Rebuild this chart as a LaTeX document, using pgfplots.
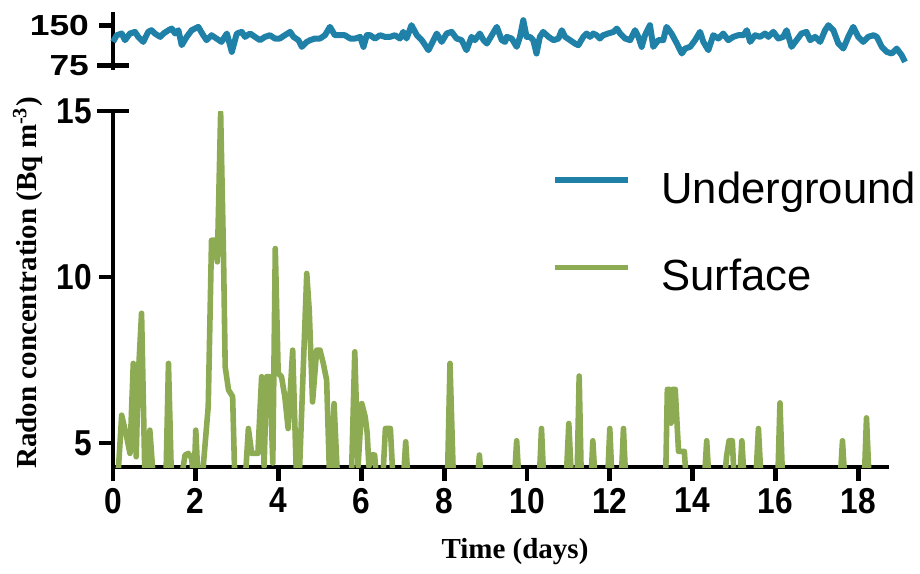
\documentclass[border=0pt]{standalone}
\usepackage{fontspec}
\setmainfont{Liberation Sans}
\newfontfamily\serifb{Liberation Serif}
\newfontfamily\tickf[FakeStretch=0.88]{Liberation Sans Bold}
\newfontfamily\tickw[FakeStretch=1.22]{Liberation Sans Bold}
\usepackage{pgfplots}
\pgfplotsset{compat=1.18}
\definecolor{ugblue}{RGB}{31,128,168}
\definecolor{sfgreen}{RGB}{141,171,82}

\begin{document}
\begin{tikzpicture}
\useasboundingbox (-56.5pt,-53pt) rectangle (403.5pt,233.5pt);

% lower panel: surface
\begin{axis}[
  at={(0pt,0pt)}, anchor=south west,
  x=20.7pt, y=16.6pt,
  xmin=0, xmax=18.75, ymin=4.28, ymax=15,
  axis x line*=bottom, axis y line*=left,
  axis line style={line width=2.4pt,-},
  tick style={line width=2.4pt,black},
  tick align=outside, major tick length=7pt,
  xtick={0,2,...,18}, ytick={5,10,15},
  extra y ticks={15}, extra y tick labels={},
  extra y tick style={tick align=center, major tick length=15.8pt},
  /pgf/number format/assume math mode=true,
  tick label style={font=\tickf\fontsize{18}{20}\selectfont},
  legend image code/.code={\draw[#1] (0pt,11.5pt) -- (36.5pt,11.5pt);},
  legend style={draw=none, fill=none, inner sep=0pt,
    at={(0.5656,0.8315)}, anchor=north west,
    row sep=23.5pt, column sep=15pt,
    font=\fontsize{21.8}{26}\selectfont,
    nodes={inner sep=0pt, text height=16pt, text depth=4pt},
    cells={anchor=base west}},
]
\addlegendimage{ugblue, line width=3pt}
\addlegendentry{Underground}
\addplot[sfgreen, line width=2.8pt, line join=round] coordinates {
(0.12,4.0)(0.21,5.84)(0.33,5.19)(0.41,4.69)(0.49,7.40)(0.56,4.59)(0.61,7.00)
(0.69,8.91)(0.77,4.0)(0.82,4.0)(0.89,5.39)(0.97,4.0)
(1.28,4.0)(1.34,7.40)(1.41,4.0)
(1.66,4.0)(1.74,4.64)(1.82,4.69)(1.90,4.54)(1.94,4.0)(1.96,4.0)(2.00,5.39)(2.05,4.0)
(2.16,4.0)(2.30,6.10)(2.38,11.11)(2.46,11.11)(2.52,10.46)(2.60,14.95)(2.67,10.61)
(2.71,7.30)(2.79,6.60)(2.89,6.40)(2.94,4.0)
(3.20,4.0)(3.27,5.44)(3.35,4.69)(3.50,4.69)(3.59,7.00)(3.65,4.30)(3.71,7.00)(3.79,7.00)
(3.86,4.40)(3.92,10.86)(3.99,7.10)(4.07,7.00)(4.15,6.40)(4.23,5.44)(4.34,7.80)(4.43,4.0)
(4.50,4.0)(4.68,10.11)(4.74,9.00)(4.82,6.24)(4.92,7.80)(5.00,7.80)(5.08,7.40)(5.16,6.90)
(5.23,4.0)(5.28,4.0)(5.34,6.19)(5.42,4.0)
(5.76,4.0)(5.84,7.75)(5.92,4.30)(6.01,6.19)(6.09,5.80)(6.14,5.30)(6.18,4.30)(6.25,4.64)
(6.32,4.64)(6.36,4.0)
(6.52,4.0)(6.58,5.44)(6.70,5.44)(6.76,4.0)
(7.02,4.0)(7.07,5.04)(7.12,4.0)
(8.08,4.0)(8.14,7.40)(8.22,4.0)
(8.81,4.0)(8.85,4.64)(8.89,4.0)
(9.70,4.0)(9.75,5.07)(9.80,4.0)
(10.30,4.0)(10.35,5.44)(10.40,4.0)
(10.95,4.0)(11.01,5.59)(11.07,4.0)(11.21,4.0)(11.26,7.02)(11.31,4.0)
(11.55,4.0)(11.59,5.07)(11.64,4.0)
(11.95,4.0)(12.00,5.44)(12.05,4.0)
(12.28,4.0)(12.33,5.44)(12.38,4.0)
(13.35,4.0)(13.39,6.62)(13.44,6.62)(13.48,5.60)(13.52,6.62)(13.58,6.62)(13.66,4.75)
(13.80,4.75)(13.84,4.0)
(14.29,4.0)(14.34,5.07)(14.39,4.0)
(14.78,4.0)(14.82,4.60)(14.88,5.07)(14.96,5.07)(15.00,4.0)
(15.14,4.0)(15.19,5.07)(15.24,4.0)
(15.53,4.0)(15.59,5.44)(15.65,4.0)
(16.06,4.0)(16.11,6.21)(16.17,4.0)
(17.57,4.0)(17.62,5.07)(17.67,4.0)
(18.15,4.0)(18.20,5.76)(18.26,4.0)(18.75,4.0)
};
\addlegendentry{Surface}
\end{axis}

% upper panel: underground
\begin{axis}[
  at={(0pt,198.5pt)}, anchor=south west,
  x=20.7pt, y=0.266667pt,
  xmin=0, xmax=19.15, ymin=66, ymax=175,
  axis x line=none, axis y line*=left,
  axis line style={line width=2.4pt,-},
  tick style={line width=2.4pt,black},
  tick align=outside, major tick length=7pt,
  ytick={75,150},
  extra y ticks={75}, extra y tick labels={},
  extra y tick style={tick align=center, major tick length=15.8pt},
  /pgf/number format/assume math mode=true,
  tick label style={font=\tickw\fontsize{14.5}{16}\selectfont},
  yticklabel style={xshift=-1.5pt},
  clip=false,
]
\addplot[ugblue, line width=3pt, line join=round] coordinates {
(0.00,118.7)(0.09,131.2)(0.21,134.4)(0.29,121.9)(0.41,134.4)(0.53,137.5)(0.61,128.1)
(0.73,118.7)(0.85,137.5)(0.93,140.6)(1.01,134.4)(1.14,128.1)(1.22,134.4)(1.34,140.6)
(1.42,143.7)(1.50,134.4)(1.58,140.6)(1.66,112.5)(1.78,128.1)(1.90,140.6)(2.06,146.9)
(2.18,131.2)(2.26,121.9)(2.38,131.2)(2.50,125.0)(2.62,118.7)(2.75,134.4)(2.87,100.0)
(2.99,134.4)(3.11,137.5)(3.19,128.1)(3.31,134.4)(3.43,128.1)(3.55,121.9)(3.67,128.1)
(3.79,131.2)(3.91,125.0)(4.03,125.0)(4.15,131.2)(4.28,137.5)(4.36,128.1)(4.48,121.9)
(4.56,109.4)(4.68,118.7)(4.76,121.9)
(4.88,125.0)(5.00,125.0)(5.12,131.2)(5.24,146.9)(5.36,131.2)(5.48,131.2)(5.60,131.2)
(5.73,125.0)(5.85,125.0)(5.97,128.1)(6.05,109.4)(6.13,131.2)(6.21,131.2)(6.33,125.0)
(6.45,131.2)(6.57,128.1)(6.69,128.1)(6.81,131.2)(6.93,125.0)(7.01,137.5)(7.09,125.0)
(7.21,150.0)(7.34,131.2)(7.46,121.9)(7.62,103.1)(7.74,121.9)(7.82,134.4)(7.94,118.7)
(8.06,134.4)(8.18,137.5)(8.30,125.0)(8.42,121.9)(8.54,103.1)(8.66,128.1)(8.74,121.9)
(8.86,134.4)(8.95,121.9)(9.03,115.6)(9.15,131.2)(9.27,146.9)(9.39,121.9)(9.47,118.7)
(9.51,128.1)(9.63,125.0)(9.75,109.4)(9.83,128.1)(9.91,159.4)(9.99,128.1)(10.07,128.1)
(10.15,121.9)(10.23,96.9)(10.31,128.1)(10.39,137.5)(10.52,128.1)(10.64,121.9)(10.76,125.0)
(10.84,140.6)(10.92,128.1)(11.04,121.9)(11.16,115.6)(11.24,112.5)(11.36,128.1)(11.44,134.4)
(11.52,128.1)(11.60,134.4)(11.68,131.2)(11.76,125.0)(11.84,131.2)(11.96,134.4)(12.09,137.5)
(12.17,143.7)(12.25,134.4)(12.37,125.0)(12.49,121.9)(12.61,140.6)(12.69,128.1)(12.77,109.4)
(12.85,131.2)(12.97,150.0)(13.05,109.4)(13.17,121.9)(13.29,121.9)(13.37,146.9)(13.49,134.4)
(13.62,115.6)(13.74,96.9)(13.82,106.2)(13.94,109.4)(14.06,121.9)(14.18,137.5)
(14.26,118.7)(14.38,103.1)(14.50,131.2)(14.62,125.0)(14.74,134.4)(14.86,121.9)(14.98,128.1)
(15.10,131.2)(15.23,131.2)(15.31,140.6)(15.39,118.7)(15.51,131.2)(15.63,128.1)(15.75,134.4)
(15.83,128.1)(15.95,137.5)(16.07,125.0)(16.19,128.1)(16.27,140.6)(16.39,109.4)(16.51,121.9)
(16.63,134.4)(16.75,137.5)(16.84,121.9)(16.96,128.1)(17.08,118.7)(17.20,140.6)(17.28,150.0)
(17.40,140.6)(17.52,115.6)(17.64,106.2)(17.76,128.1)(17.88,146.9)(18.00,128.1)(18.12,118.7)
(18.24,128.1)(18.37,131.2)(18.45,128.1)(18.57,109.4)(18.69,100.0)(18.81,96.9)(18.93,106.2)
(19.05,93.7)(19.13,81.2)
};
\end{axis}

\node[rotate=90, font=\serifb\bfseries\fontsize{14.5}{16}\selectfont] at (-42.5pt,92pt)
  {Radon concentration (Bq m\textsuperscript{-3})};
\node[font=\serifb\bfseries\fontsize{14.5}{16}\selectfont] at (201pt,-42.5pt) {Time (days)};
\end{tikzpicture}
\end{document}
